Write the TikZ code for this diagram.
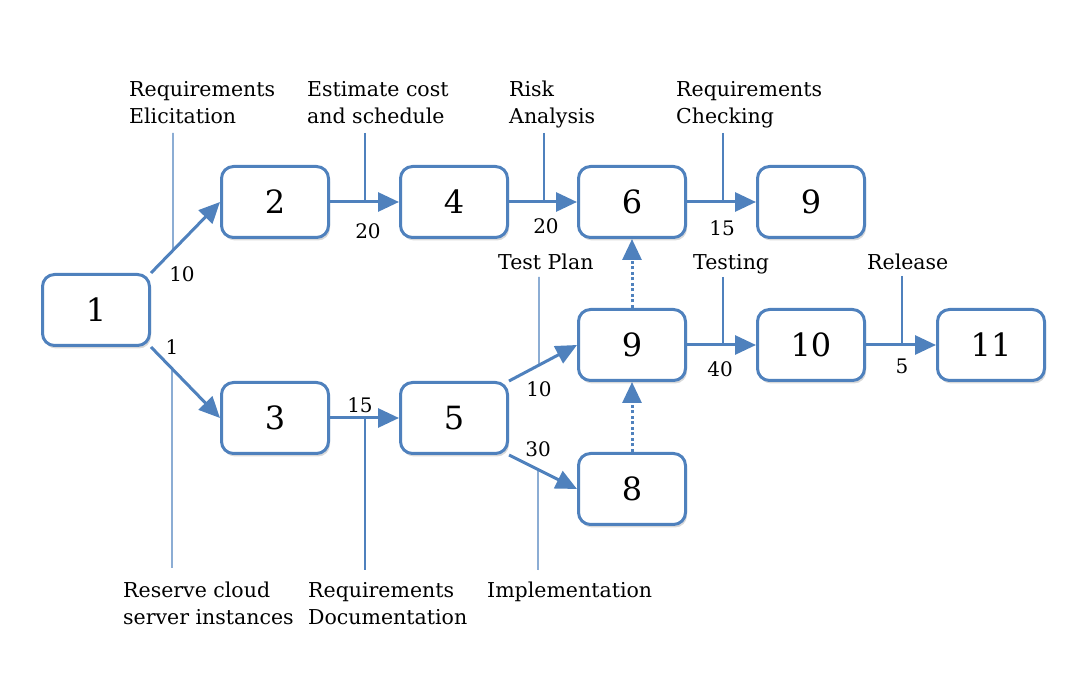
\documentclass[tikz,border=0pt]{standalone}
\usepackage{fontspec}
\setmainfont{DejaVu Serif}
\usetikzlibrary{arrows.meta,shadows,calc}
\definecolor{pblue}{RGB}{79,129,189}
\begin{document}
\begin{tikzpicture}[x=1pt,y=-1pt,
 box/.style={draw=pblue,line width=3pt,rounded corners=12pt,fill=white,minimum width=107pt,minimum height=71pt,inner sep=0pt,font=\fontsize{32}{36}\selectfont,drop shadow={opacity=0.3,shadow xshift=1.5pt,shadow yshift=-3pt}},
 flow/.style={draw=pblue,line width=3pt,-{Triangle[length=21pt,width=19pt]}},
 dep/.style={flow,dash pattern=on 3pt off 2.5pt},
 lead/.style={draw=pblue,line width=1.2pt},
 note/.style={align=left,anchor=north west,inner sep=0pt,font=\fontsize{20.5}{27}\selectfont},
 wt/.style={inner sep=0pt,font=\fontsize{20}{22}\selectfont}
]
\useasboundingbox (0,0) rectangle (1088,692);
% boxes
\node[box] (n1) at (96,310) {1};
\node[box] (n2) at (275,202) {2};
\node[box] (n4) at (454,202) {4};
\node[box] (n6) at (632,202) {6};
\node[box] (n9a) at (811,202) {9};
\node[box] (n3) at (275,418) {3};
\node[box] (n5) at (454,418) {5};
\node[box] (n9b) at (632,345) {9};
\node[box] (n8) at (632,489) {8};
\node[box] (n10) at (811,345) {10};
\node[box] (n11) at (991,345) {11};
% flows
\draw[flow] (n1.north east) -- (n2.west);
\draw[flow] (n1.south east) -- (n3.west);
\draw[flow] (n2) -- (n4);
\draw[flow] (n4) -- (n6);
\draw[flow] (n6) -- (n9a);
\draw[flow] (n3) -- (n5);
\draw[flow] (n5.north east) -- (n9b.west);
\draw[flow] (n5.south east) -- (n8.west);
\draw[flow] (n9b) -- (n10);
\draw[flow] (n10) -- (n11);
\draw[dep] (n9b) -- (n6);
\draw[dep] (n8) -- (n9b);
% weights
\node[wt] (w12) at (182,274) {10};
\node[wt] (w13) at (172,347) {1};
\node[wt] (w24) at (368,231) {20};
\node[wt] (w46) at (546,226) {20};
\node[wt] (w69) at (722,228) {15};
\node[wt] (w35) at (360,405) {15};
\node[wt] (w59) at (539,389) {10};
\node[wt] (w58) at (538,449) {30};
\node[wt] (w910) at (720,369) {40};
\node[wt] (w1011) at (902,366) {5};
% notes
\node[note] (t1) at (129,81) {Requirements\\Elicitation};
\node[note] (t2) at (307,81) {Estimate cost\\and schedule};
\node[note] (t3) at (509,81) {Risk\\Analysis};
\node[note] (t4) at (676,81) {Requirements\\Checking};
\node[note] (t5) at (498,254) {Test Plan};
\node[note] (t6) at (693,254) {Testing};
\node[note] (t7) at (867,254) {Release};
\node[note] (t8) at (123,582) {Reserve cloud\\server instances};
\node[note] (t9) at (308,582) {Requirements\\Documentation};
\node[note] (t10) at (487,582) {Implementation};
% leader lines
\coordinate (l1) at (173,133);
\coordinate (l2) at (365,133);
\coordinate (l3) at (544,133);
\coordinate (l4) at (723,133);
\coordinate (l5) at (539,277);
\coordinate (l6) at (723,277);
\coordinate (l7) at (902,276);
\coordinate (l8) at (172,568);
\coordinate (l9) at (365,570);
\coordinate (l10) at (538,570);
\draw[lead] (l1) -- (intersection of n1.north east--n2.west and l1--173,400);
\draw[lead] (l2) -- (l2 |- n2.east);
\draw[lead] (l3) -- (l3 |- n4.east);
\draw[lead] (l4) -- (l4 |- n6.east);
\draw[lead] (l5) -- (intersection of n5.north east--n9b.west and l5--539,500);
\draw[lead] (l6) -- (l6 |- n9b.east);
\draw[lead] (l7) -- (l7 |- n10.east);
\draw[lead] (l8) -- (intersection of n1.south east--n3.west and l8--172,200);
\draw[lead] (l9) -- (l9 |- n3.east);
\draw[lead] (l10) -- (intersection of n5.south east--n8.west and l10--538,300);
\end{tikzpicture}
\end{document}
